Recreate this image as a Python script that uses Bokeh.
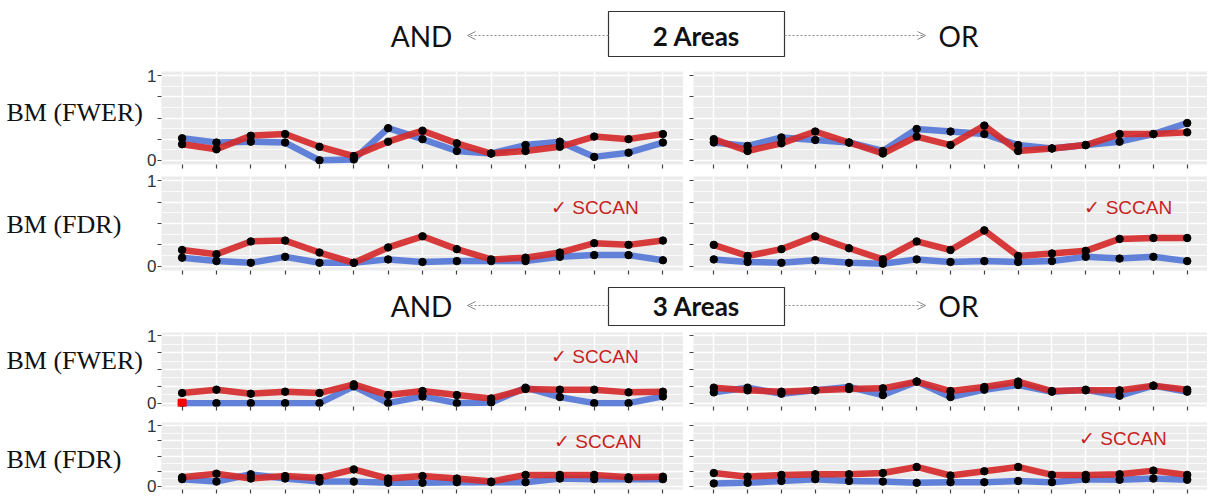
from bokeh.plotting import figure
from bokeh.models import Range1d, FixedTicker, Label, Arrow, OpenHead, Grid
from bokeh.layouts import column, row
from bokeh.embed import file_html
from bokeh.resources import INLINE

# ---------------- data ----------------
x_pos = list(range(1, 16))
y_ticks = [0, 0.25, 0.5, 0.75, 1]
y_label_ticks = [0, 1]
y_mid_ticks = [0.25, 0.5, 0.75]
y_minor = [0.125, 0.375, 0.625, 0.875]

row_labels = ["BM (FWER)", "BM (FDR)", "BM (FWER)", "BM (FDR)"]
header_titles = ["2 Areas", "3 Areas"]
sccan_text = "\u2713 SCCAN"

# 2 areas, FWER
a2_fwer_and_blue = [0.26, 0.21, 0.22, 0.21, 0.00, 0.01, 0.38, 0.25, 0.11, 0.08, 0.18, 0.22, 0.04, 0.09, 0.21]
a2_fwer_and_red = [0.19, 0.13, 0.29, 0.31, 0.16, 0.05, 0.22, 0.35, 0.20, 0.08, 0.11, 0.16, 0.28, 0.25, 0.31]
a2_fwer_or_blue = [0.21, 0.17, 0.27, 0.24, 0.21, 0.11, 0.37, 0.34, 0.31, 0.18, 0.14, 0.18, 0.22, 0.31, 0.44]
a2_fwer_or_red = [0.25, 0.11, 0.20, 0.34, 0.21, 0.08, 0.28, 0.18, 0.41, 0.11, 0.14, 0.18, 0.31, 0.31, 0.33]
# 2 areas, FDR
a2_fdr_and_blue = [0.10, 0.06, 0.04, 0.11, 0.04, 0.04, 0.08, 0.05, 0.06, 0.06, 0.06, 0.11, 0.13, 0.13, 0.07]
a2_fdr_and_red = [0.19, 0.14, 0.29, 0.30, 0.16, 0.04, 0.22, 0.35, 0.20, 0.08, 0.10, 0.16, 0.27, 0.25, 0.30]
a2_fdr_or_blue = [0.08, 0.05, 0.04, 0.07, 0.04, 0.03, 0.08, 0.05, 0.06, 0.05, 0.06, 0.11, 0.09, 0.11, 0.06]
a2_fdr_or_red = [0.25, 0.12, 0.20, 0.35, 0.21, 0.08, 0.29, 0.19, 0.42, 0.12, 0.15, 0.18, 0.32, 0.33, 0.33]
# 3 areas, FWER
a3_fwer_and_blue = [0.00, 0.00, 0.00, 0.00, 0.00, 0.25, 0.00, 0.10, 0.00, 0.01, 0.23, 0.09, 0.00, 0.00, 0.10]
a3_fwer_and_red = [0.15, 0.20, 0.14, 0.17, 0.15, 0.28, 0.12, 0.18, 0.12, 0.07, 0.21, 0.20, 0.20, 0.16, 0.17]
a3_fwer_or_blue = [0.16, 0.23, 0.14, 0.19, 0.24, 0.12, 0.32, 0.09, 0.20, 0.27, 0.17, 0.20, 0.11, 0.26, 0.17]
a3_fwer_or_red = [0.23, 0.19, 0.17, 0.19, 0.21, 0.22, 0.32, 0.18, 0.24, 0.32, 0.18, 0.19, 0.19, 0.26, 0.20]
# 3 areas, FDR
a3_fdr_and_blue = [0.12, 0.08, 0.20, 0.13, 0.08, 0.08, 0.06, 0.06, 0.07, 0.07, 0.07, 0.13, 0.12, 0.12, 0.12]
a3_fdr_and_red = [0.15, 0.21, 0.13, 0.17, 0.14, 0.28, 0.13, 0.17, 0.13, 0.08, 0.19, 0.19, 0.19, 0.15, 0.16]
a3_fdr_or_blue = [0.05, 0.06, 0.09, 0.12, 0.09, 0.08, 0.06, 0.07, 0.07, 0.09, 0.07, 0.12, 0.11, 0.13, 0.11]
a3_fdr_or_red = [0.22, 0.16, 0.19, 0.20, 0.20, 0.22, 0.32, 0.18, 0.25, 0.32, 0.19, 0.19, 0.20, 0.26, 0.19]

# highlighted point (red square) in 3 areas / FWER / AND
highlight_x = [1]
highlight_y = [0.0]

# ---------------- style ----------------
BLUE = "#5A7BD8"
RED = "#D42A2A"
BG = "#EBEBEB"
TICK = "#444444"
SCCAN_RED = "#C81E1E"
TOTAL_W = 1207
LABEL_W = 144
LEFT_W = 539
RIGHT_W = 524


def panel(width, border_left, height, top, bottom, blue, red, labels, sccan=None, highlight=False):
    p = figure(width=width, height=height, x_range=Range1d(0.4, 15.6), y_range=Range1d(-0.05, 1.05),
               output_backend="svg", toolbar_location=None,
               min_border_left=border_left, min_border_right=0,
               min_border_top=top, min_border_bottom=bottom)
    p.background_fill_color = BG
    p.border_fill_color = "white"
    p.outline_line_color = None

    # x axis: tick marks only (drawn as minor ticks, no labels)
    p.xaxis.ticker = FixedTicker(ticks=[], minor_ticks=x_pos)
    p.xaxis.axis_line_color = None
    p.xaxis.minor_tick_line_color = TICK
    p.xaxis.minor_tick_line_width = 1.2
    p.xaxis.minor_tick_out = 4
    p.xaxis.minor_tick_in = 0
    p.xaxis.major_label_standoff = 0

    # y axis: labels at 0 and 1, plain ticks in between
    if labels:
        p.yaxis.ticker = FixedTicker(ticks=y_label_ticks, minor_ticks=y_mid_ticks)
        p.yaxis.major_label_text_font = "Liberation Sans"
        p.yaxis.major_label_text_font_size = "17px"
        p.yaxis.major_label_text_color = "#333333"
        p.yaxis.major_label_standoff = 1
    else:
        p.yaxis.ticker = FixedTicker(ticks=[], minor_ticks=y_ticks)
    p.yaxis.axis_line_color = None
    p.yaxis.major_tick_line_color = TICK
    p.yaxis.major_tick_line_width = 1.2
    p.yaxis.major_tick_out = 4
    p.yaxis.major_tick_in = 0
    p.yaxis.minor_tick_line_color = TICK
    p.yaxis.minor_tick_line_width = 1.2
    p.yaxis.minor_tick_out = 4
    p.yaxis.minor_tick_in = 0

    p.xgrid.ticker = FixedTicker(ticks=x_pos)
    p.xgrid.grid_line_color = "white"
    p.xgrid.grid_line_width = 1.5
    p.ygrid.ticker = FixedTicker(ticks=y_ticks)
    p.ygrid.grid_line_color = "white"
    p.ygrid.grid_line_width = 1.5
    p.add_layout(Grid(dimension=1, ticker=FixedTicker(ticks=y_minor),
                      grid_line_color="white", grid_line_width=0.8))

    p.line(x_pos, blue, line_color=BLUE, line_width=6.5, line_alpha=0.95, line_join="round")
    p.line(x_pos, red, line_color=RED, line_width=6.5, line_alpha=0.92, line_join="round")
    p.scatter(x_pos, blue, size=7.5, color="black")
    p.scatter(x_pos, red, size=7.5, color="black")
    if highlight:
        p.scatter(highlight_x, highlight_y, marker="square", size=8, color="#FF0000")
    if sccan is not None:
        p.add_layout(Label(x=sccan[0], y=sccan[1], text=sccan_text, text_color=SCCAN_RED,
                           text_font="Liberation Sans", text_font_size="19px",
                           text_baseline="middle", text_align="left"))
    return p


def row_label(text, height, top, bottom, ypos):
    f = figure(width=LABEL_W, height=height, x_range=Range1d(0, 1), y_range=Range1d(-0.05, 1.05),
               x_axis_location=None, y_axis_location=None, output_backend="svg", toolbar_location=None,
               min_border_left=0, min_border_right=0, min_border_top=top, min_border_bottom=bottom)
    f.outline_line_color = None
    f.grid.visible = False
    f.add_layout(Label(x=0, y=ypos, text=text, text_font="Liberation Serif", text_font_size="26px",
                       text_color="#111111", text_baseline="middle", text_align="left", x_offset=6))
    return f


def header(title, height, text_y, box_top, box_bottom):
    h = figure(width=TOTAL_W, height=height, x_range=Range1d(0, TOTAL_W), y_range=Range1d(height, 0),
               x_axis_location=None, y_axis_location=None, output_backend="svg", toolbar_location=None,
               min_border=0)
    h.outline_line_color = None
    h.grid.visible = False
    box_l, box_r = 608, 784
    h.quad(left=[box_l], right=[box_r], top=[box_top], bottom=[box_bottom],
           fill_color="white", line_color="#333333", line_width=1.2)
    h.add_layout(Label(x=(box_l + box_r) / 2, y=text_y, text=title, text_font="Lato", text_font_style="bold",
                       text_font_size="26px", text_color="#111111", text_align="center", text_baseline="middle"))
    h.add_layout(Label(x=421, y=text_y, text="AND", text_font="Lato", text_font_size="28px",
                       text_color="#111111", text_align="center", text_baseline="middle"))
    h.add_layout(Label(x=958, y=text_y, text="OR", text_font="Lato", text_font_size="28px",
                       text_color="#111111", text_align="center", text_baseline="middle"))
    h.add_layout(Arrow(end=OpenHead(size=8, line_color="#888888", line_width=1),
                       x_start=box_l, y_start=text_y, x_end=467, y_end=text_y,
                       line_color="#888888", line_width=1, line_dash="2 2"))
    h.add_layout(Arrow(end=OpenHead(size=8, line_color="#888888", line_width=1),
                       x_start=box_r, y_start=text_y, x_end=925, y_end=text_y,
                       line_color="#888888", line_width=1, line_dash="2 2"))
    return h


# rows: (height, top, bottom)
R1 = (106, 5, 8)
R2 = (106, 4, 8)
R3 = (90, 6, 10)
R4 = (82, 6, 9)

h1 = header(header_titles[0], 66, 35, 11, 56)
r1 = row(row_label(row_labels[0], *R1, 0.56),
         panel(LEFT_W, 16, *R1, a2_fwer_and_blue, a2_fwer_and_red, True),
         panel(RIGHT_W, 10, *R1, a2_fwer_or_blue, a2_fwer_or_red, False))
r2 = row(row_label(row_labels[1], *R2, 0.49),
         panel(LEFT_W, 16, *R2, a2_fdr_and_blue, a2_fdr_and_red, True, sccan=(11.74, 0.69)),
         panel(RIGHT_W, 10, *R2, a2_fdr_or_blue, a2_fdr_or_red, False, sccan=(11.96, 0.69)))
h2 = header(header_titles[1], 48, 27, 9, 47)
r3 = row(row_label(row_labels[2], *R3, 0.64),
         panel(LEFT_W, 16, *R3, a3_fwer_and_blue, a3_fwer_and_red, True, sccan=(11.74, 0.70), highlight=True),
         panel(RIGHT_W, 10, *R3, a3_fwer_or_blue, a3_fwer_or_red, False))
r4 = row(row_label(row_labels[3], *R4, 0.45),
         panel(LEFT_W, 16, *R4, a3_fdr_and_blue, a3_fdr_and_red, True, sccan=(11.83, 0.73)),
         panel(RIGHT_W, 10, *R4, a3_fdr_or_blue, a3_fdr_or_red, False, sccan=(11.8, 0.79)))

layout = column(h1, r1, r2, h2, r3, r4)

open("out.html", "w").write(file_html(layout, INLINE))
